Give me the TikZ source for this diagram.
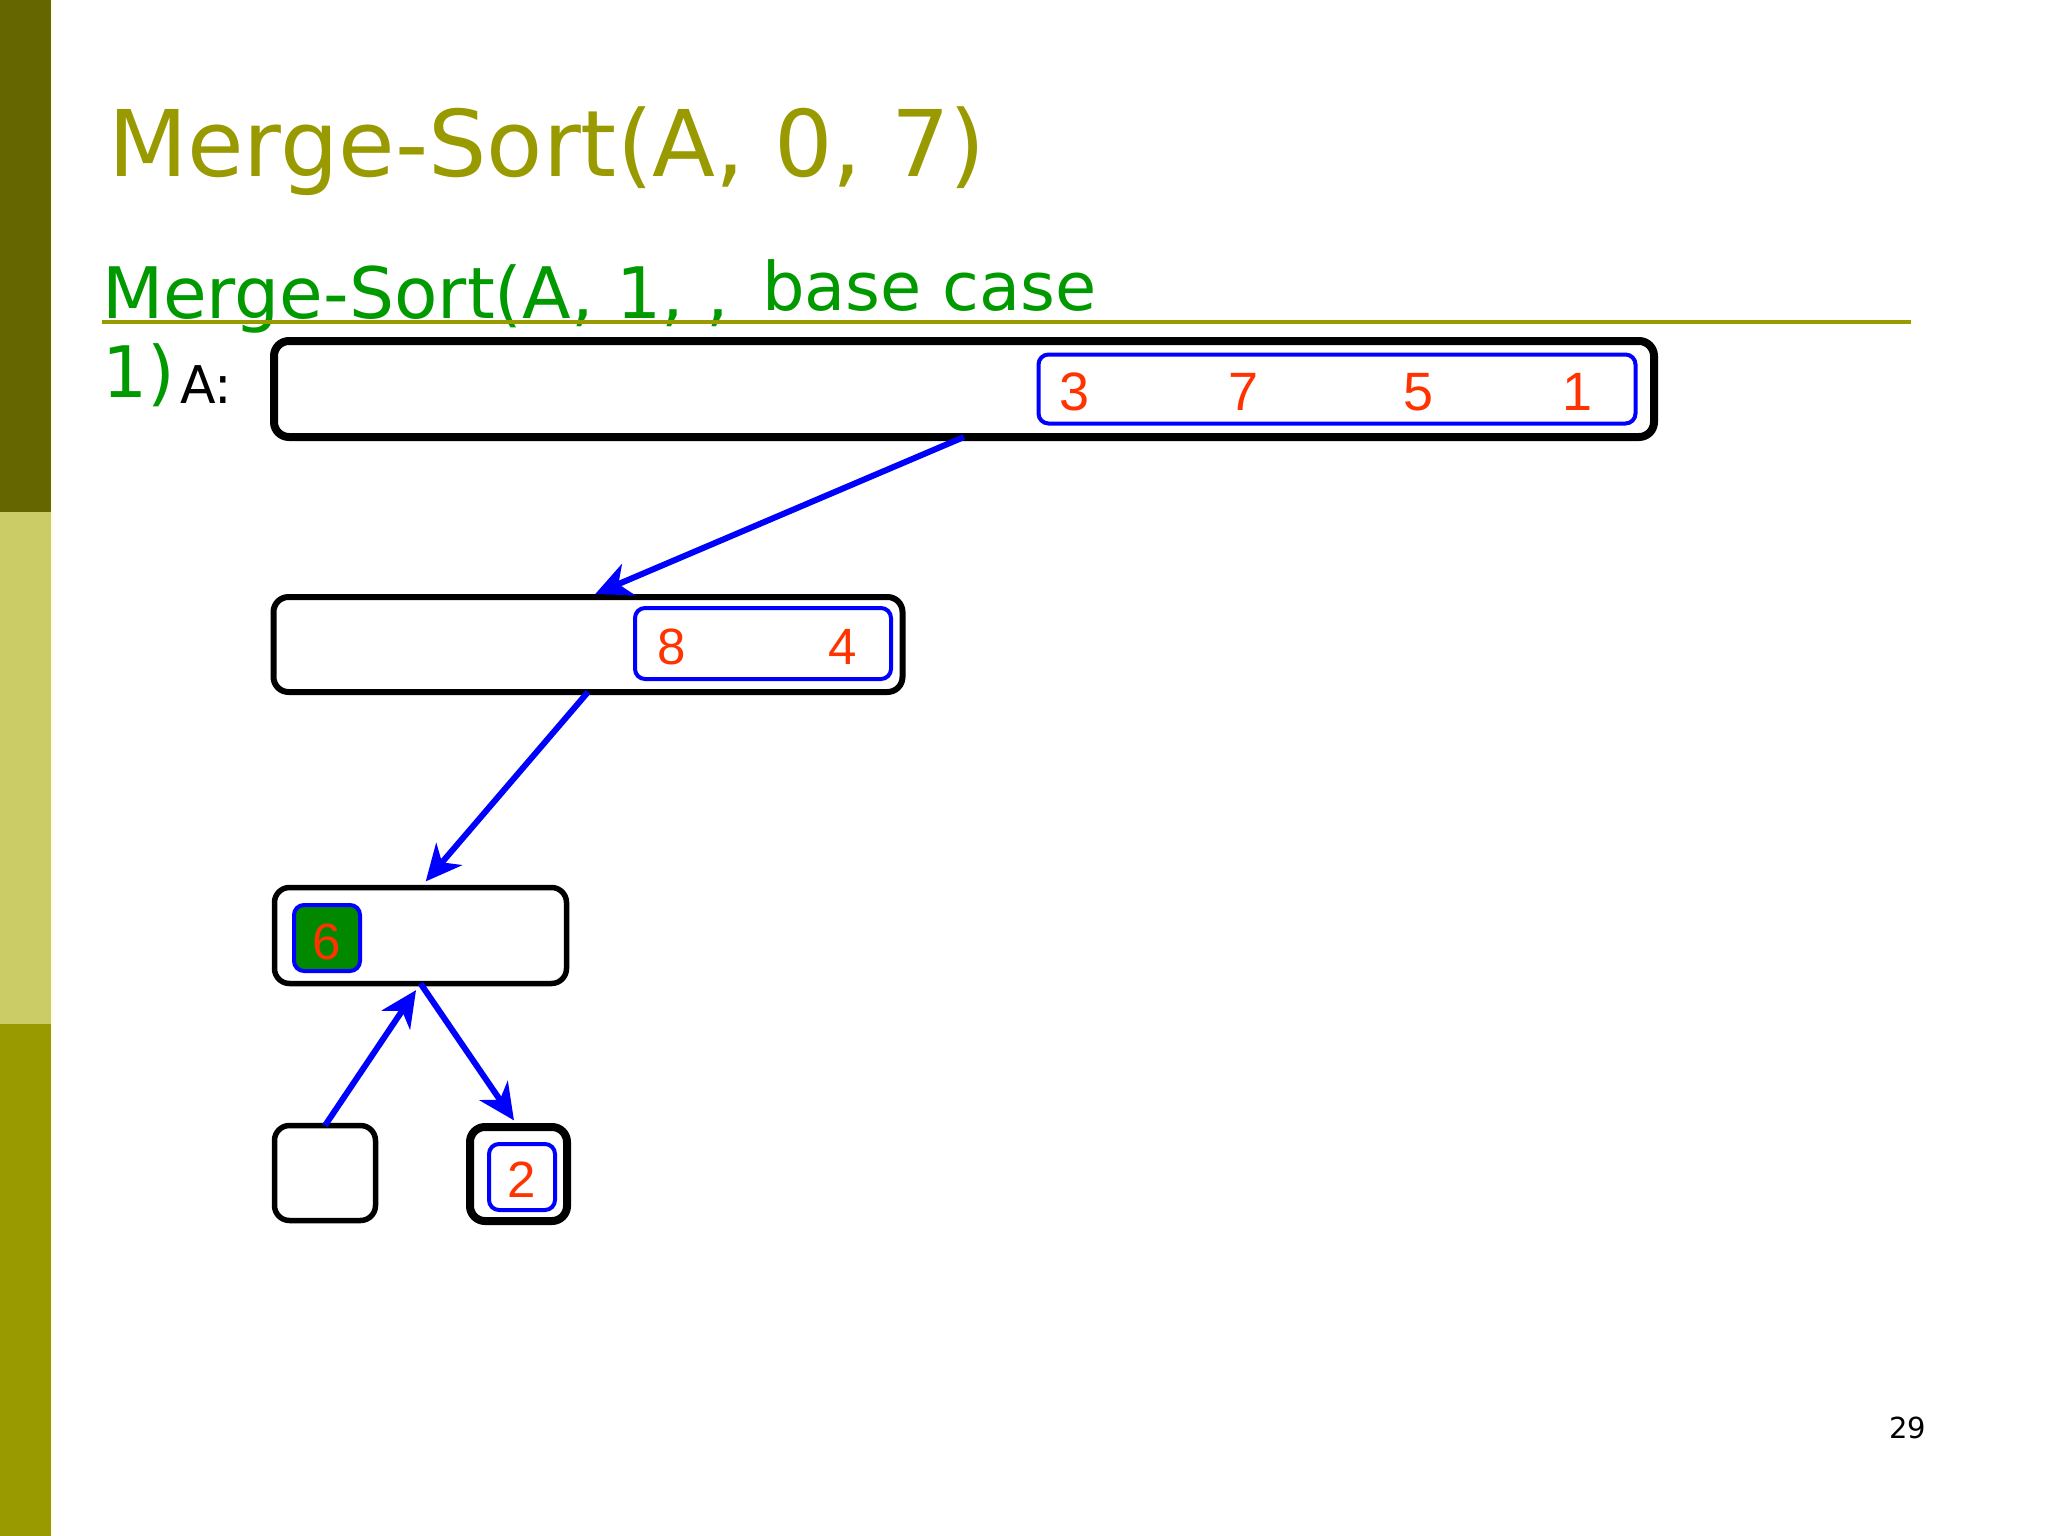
\documentclass[tikz,border=0pt]{standalone}
\usepackage{fontspec}
\setmainfont{DejaVu Sans}
\newfontfamily\arialf{Liberation Sans}
\usetikzlibrary{arrows.meta}
\definecolor{barA}{RGB}{102,102,0}
\definecolor{barB}{RGB}{204,204,102}
\definecolor{barC}{RGB}{153,153,0}
\definecolor{titlecol}{RGB}{153,153,0}
\definecolor{subcol}{RGB}{0,153,0}
\definecolor{numcol}{RGB}{255,51,0}
\definecolor{boxblue}{RGB}{0,0,255}
\definecolor{cellgreen}{RGB}{0,136,0}
\tikzset{
  txt/.style={inner sep=0pt, outer sep=0pt, anchor=base west},
  blackbox/.style={draw=black, line width=#1, rounded corners=15pt, inner sep=0pt, outer sep=0pt, fill=white},
  bluebox/.style={draw=boxblue, line width=4pt, rounded corners=10pt, inner sep=0pt, outer sep=0pt},
  num/.style={text=numcol, inner sep=0pt, outer sep=0pt, anchor=base, font=\arialf\fontsize{54}{54}\selectfont},
  numsm/.style={text=numcol, inner sep=0pt, outer sep=0pt, anchor=base, font=\arialf\fontsize{51}{51}\selectfont},
  arr/.style={draw=boxblue, line width=6pt, -{Stealth[length=36pt, width=34pt, inset=11pt, sep=8pt]}}
}
\begin{document}
\begin{tikzpicture}[x=1pt,y=-1pt]
\useasboundingbox (0,0) rectangle (2048,1536);
\fill[white] (0,0) rectangle (2048,1536);
% side bar
\fill[barA] (0,0) rectangle (51,512);
\fill[barB] (0,512) rectangle (51,1024);
\fill[barC] (0,1024) rectangle (51,1536);
\fill[yellow!10] (51,0) rectangle (53,1536);
% title
\node[txt, text=titlecol, font=\fontsize{92}{92}\selectfont] (title) at (108,176) {Merge-Sort(A, 0, 7)};
% subtitle
\node[txt, text=subcol, font=\fontsize{71}{71}\selectfont] (sub1) at (102,318) {Merge-Sort(A, 1, ,};
\node[txt, text=subcol, font=\fontsize{67}{67}\selectfont] (sub2) at (762,310) {base case};
\draw[titlecol, line width=4pt] (102,322) coordinate (ulA) -- (1911,322) coordinate (ulB);
% label
\node[txt, text=subcol, font=\fontsize{71}{71}\selectfont] (one) at (102,397) {1)};
\node[txt, text=black, font=\fontsize{52}{52}\selectfont] (alab) at (180,403) {A:};
% boxes
\node[blackbox=8pt, minimum width=1380pt, minimum height=96pt] (bA) at (964,389) {};
\node[bluebox, minimum width=597pt, minimum height=69pt] (iA) at (1337,389) {};
\node[num] (n3) at (1075,410) {3};
\node[num] (n7) at (1244,410) {7};
\node[num] (n5) at (1418,410) {5};
\node[num] (n1) at (1577,410) {1};

\node[blackbox=6pt, minimum width=629pt, minimum height=95pt] (b2) at (588,644.5) {};
\node[bluebox, minimum width=256pt, minimum height=71pt] (i2) at (763,643.5) {};
\node[numsm] (n8) at (672,664) {8};
\node[numsm] (n4) at (843,664) {4};

\node[blackbox=5.5pt, minimum width=292pt, minimum height=96pt] (b3) at (420.5,935.5) {};
\node[bluebox, fill=cellgreen, minimum width=66pt, minimum height=66pt] (i3) at (327,938) {};
\node[numsm] (n6) at (327,959) {6};

\node[blackbox=5.5pt, minimum width=101pt, minimum height=95pt] (b4) at (325,1173) {};
\node[blackbox=8pt, minimum width=97pt, minimum height=94pt] (b5) at (518.5,1174) {};
\node[bluebox, minimum width=66pt, minimum height=66pt] (i5) at (522,1177) {};
\node[numsm] (n2) at (522,1197) {2};

% arrows
\draw[arr] (bA.south) -- (b2.north);
\draw[arr] (b2.south) -- (b3.north);
\draw[arr] (b4.north) -- (b3.south);
\draw[arr] (b3.south) -- (b5.north);

% page number
\node[txt, text=black, font=\fontsize{29}{29}\selectfont] (pg) at (1889,1438) {29};
\end{tikzpicture}
\end{document}
